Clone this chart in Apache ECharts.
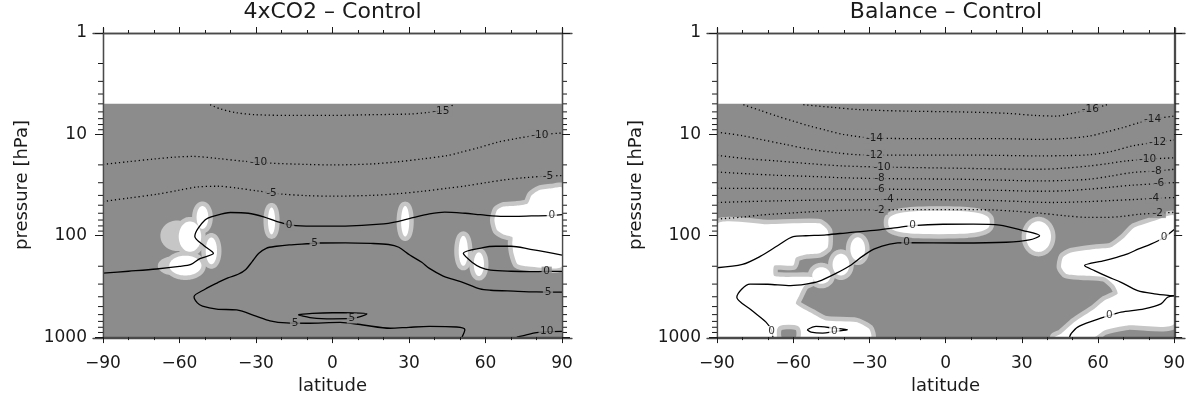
<!DOCTYPE html>
<html><head><meta charset="utf-8">
<script src="https://cdn.jsdelivr.net/npm/echarts@6/dist/echarts.min.js"></script>
<style>html,body{margin:0;padding:0;background:#fff}#c{width:1188px;height:400px}</style>
</head><body><div id="c"></div>
<script>
// ================= DATA =================
const panelTitles = ['4xCO2 \u2013 Control', 'Balance \u2013 Control'];
const latMin = -90, latMax = 90, latStep = 30;
const pMin = 1, pMax = 1000;
const pMinorTicks = [2,3,4,5,6,7,8,9,20,30,40,50,60,70,80,90,200,300,400,500,600,700,800,900];
const shadedTopP = 5;   // significance shading begins at 5 hPa

// ---- Panel A: 4xCO2 - Control : contours [lat, hPa]
const a_m15 = [[-48,5.1],[-44,5.6],[-38,6.1],[-30,6.4],[-15,6.5],[0,6.5],[15,6.4],[30,6.3],[37,6.1],[43,5.8],[47.5,5.1]];
const a_m10 = [[-90,19.8],[-80,18.6],[-70,17.5],[-62,16.8],[-55,16.5],[-45,17.3],[-35,18.4],[-25,19.2],[-10,19.8],[0,20],[15,19.6],[25,18.7],[35,17.5],[45,16.2],[50,15.1],[57,13.6],[64.5,12],[72,11],[81,10.1],[90,9.7]];
const a_m5  = [[-90,46],[-80,42.5],[-69,39],[-60,35.5],[-53,33],[-45,32.5],[-37,34],[-30,36],[-20,38.8],[-10,40.2],[0,40.7],[15,40],[25,38.6],[35,36.5],[45,34],[52,32.3],[60,30],[67,28.2],[75,26.8],[84,25.8],[90,25.5]];
const a_0a  = [[-90,234],[-80,224],[-69,213],[-60,201],[-55.5,192],[-52,168],[-46.7,149],[-50.5,125],[-54,101],[-50,70],[-45.5,63],[-40,59],[-33,60],[-27,65],[-22,72],[-16,78.6],[-8,80.5],[5,80.3],[18.6,77],[26,72],[32,66],[38,61],[44,58.5],[52,60],[58,62],[67,64.5],[78,63.8],[86,63],[90,62]];
const a_0b  = [[90,155],[84,145],[77.6,136],[70,127],[64,127],[59,131],[51.3,149],[55,185],[58,205],[62,218],[70,224],[77.6,226],[84,225],[90,225]];
const a_5a  = [[90,360],[80,358],[71,352],[62,345],[57.8,335],[51.3,290],[47,268],[43.4,250],[38,210],[35,183],[30.3,155],[26,130],[22,122],[15,119],[5,117.5],[-5,118],[-10,120],[-17,123],[-22,127],[-26,133],[-29,150],[-31.5,180],[-34,215],[-37,240],[-41,260],[-45,290],[-50,337],[-54.3,400],[-53,460],[-51,495],[-45.4,530],[-37.6,540],[-30,620],[-24.5,690],[-18,725],[-10,730],[3,715],[12,760],[22.6,818],[30,800],[38,785],[48.7,795],[51.9,845],[50.8,1000]];
const a_5b  = [[-13.4,602],[-8,584],[0,575],[8,576],[13.5,590],[7.6,655],[0,660],[-8,645],[-13.4,602]];
const a_10  = [[72.3,1000],[76,950],[80,905],[85,885],[90,880]];
const a_labels = [[42.5,5.9,'-15'],[-29,19,'-10'],[81.3,10.1,'-10'],[-23.9,37.9,'-5'],[84.5,25.8,'-5'],[-17,78.6,'0'],[86,63,'0'],[84,226,'0'],[-7,120,'5'],[84.5,362,'5'],[-14.7,730,'5'],[7.6,656,'5'],[84,882,'10']];
// non-significant areas: ellipses [lat, hPa, lat half-width, log10 half-height, shape exponent]
const a_whiteEllipses = [[-51,66,2.3,0.113,2],[-55.9,102,4.4,0.15,2],[-47.5,141,2.2,0.132,2],[-57.7,197,6.3,0.098,2],[-23.9,71.4,1.4,0.133,2],[28.5,72,1.6,0.15,2],[51.3,141,1.8,0.148,2],[57.4,191,2.0,0.117,2]];
const a_lightEllipses = [[-61,100,6.5,0.15,2],[-62,198,6.5,0.095,2]];
const a_whitePolys = [[[64.5,56],[67,51.5],[72,50.5],[76.5,48],[78,40],[81,35.5],[86,34],[90,33.5],[90,200],[76,200],[72.5,190],[71,150],[70.5,120],[70.5,103],[67,97],[64.5,88],[63.5,70]]];

// ---- Panel B: Balance - Control
const b_m16 = [[-56,5.1],[-45,5.4],[-33.7,5.7],[-15,5.9],[5.5,6.0],[24,6.2],[35,6.5],[43.5,6.6],[50,6.2],[57,5.7],[63.5,5.1]];
const b_m14 = [[-79.6,5.1],[-73,5.8],[-66.4,6.6],[-60,7.4],[-53.4,8.3],[-47,9.1],[-40.3,10],[-28,10.9],[-10,11],[5.5,11],[20,11],[37,11.2],[47,11],[56.6,10.4],[63,9.5],[69.7,8.6],[76,7.7],[81.5,7.1],[90,6.6]];
const b_m12 = [[-90,9.5],[-80,10.3],[-73,11.2],[-63,12.6],[-53.4,14],[-43,15.2],[-33.7,15.9],[-15,16],[5.5,16],[20,16.1],[37,16.3],[47,16.2],[56.6,15.9],[65,14.8],[73.6,13],[83.5,11.9],[90,11.4]];
const b_m10 = [[-90,16.1],[-78,17.4],[-66.4,18.3],[-53,19.5],[-40.3,20.5],[-25,21],[-10,21.3],[5.5,21.6],[20,21.9],[37,22.1],[47,21.5],[56.6,20.5],[64,19.4],[71,18.3],[79.5,17.6],[90,17]];
const b_m8  = [[-90,23.5],[-78,24.5],[-66.4,25.3],[-53,26],[-40.3,26.8],[-26,27.3],[-10,27.5],[5.5,27.7],[20,28.2],[37,28.8],[47,28.5],[56.6,27.7],[65,25.8],[73.6,23.8],[83,23],[90,22.1]];
const b_m6  = [[-90,34],[-78,34.1],[-66.4,34.2],[-50,34.5],[-26,34.7],[-10,35],[5.5,35.2],[20,35.6],[37,36.4],[47,36],[56.6,34.7],[65,33.2],[73.6,31.7],[84,30.6],[90,29.9]];
const b_m4  = [[-90,47],[-78,46],[-66.4,45.3],[-50,44.5],[-35,44.2],[-22.5,43.9],[-5,44.1],[5.5,44.3],[20,45],[30,46],[42,47],[56.6,46],[65,45],[73.6,44],[82,42.9],[90,42]];
const b_m2  = [[-90,68.5],[-80,65.5],[-73,62.6],[-60,59.5],[-46.8,56.8],[-35,55.8],[-26,55.5],[-10,55.3],[5,55.3],[17,55.5],[28,57.5],[37,59.8],[47,63.5],[56.6,66],[63,66],[69.7,64.4],[76,61.5],[83.5,59.8],[90,58.9]];
const b_0a  = [[-90,207],[-80,192],[-73,160],[-66,125],[-60,102],[-55,100],[-47,98],[-38,93],[-27,88],[-19,83],[-13,79.5],[-1,77],[10.8,76.7],[21.3,78.4],[30.5,89],[37,100],[33,110],[23.9,116],[5.5,118],[-15.4,117],[-22,121],[-28,135],[-32.5,158],[-37.7,198],[-43,234],[-50,282],[-55,300],[-61,310],[-70,301],[-77,300],[-82.2,404],[-76.5,540],[-70.7,711],[-68.5,860],[-68,1000]];
const b_0b  = [[-54.5,846],[-51,785],[-44.5,812],[-38.6,846],[-43.8,879],[-48.4,912],[-53,891],[-54.5,846]];
const b_0c  = [[90,87],[86,104],[80.8,121],[76,135],[71.7,151],[67,164],[62.5,176],[54.7,197],[58.6,221],[64,255],[69.1,288],[75.6,348],[82.2,374],[88.7,389],[90,390]];
const b_0d  = [[90,392],[87.4,404],[84.8,470],[78.2,526],[69.1,567],[64.5,612],[58.6,685],[52,797],[49.4,926],[48.8,1000]];
const b_labels = [[57,5.7,'-16'],[-28,10.9,'-14'],[81.5,7.1,'-14'],[-28,15.9,'-12'],[83.5,11.9,'-12'],[-25,21,'-10'],[79.5,17.6,'-10'],[-26,27.3,'-8'],[83,23,'-8'],[-26,34.7,'-6'],[84,30.6,'-6'],[-22.5,43.9,'-4'],[82,42.9,'-4'],[-26,55.5,'-2'],[83.5,59.8,'-2'],[-13,79.5,'0'],[-15.4,117,'0'],[-68.5,870,'0'],[-43.8,879,'0'],[86,104,'0'],[64.5,612,'0']];
const b_whiteEllipses = [[-2.6,74,20,0.115,3],[36.6,102,4.9,0.151,2],[-34.6,135,2.9,0.115,2],[-41.2,193,3.3,0.107,2],[-48.9,247,3.6,0.082,2]];
const b_whitePolys = [
  [[-90,77],[-70,77],[-49.7,75.5],[-46.4,89],[-46.4,130],[-49.7,149],[-55,153],[-58.9,165],[-60,197],[-67.4,197],[-67.4,250],[-52.5,256],[-52,280],[-55.5,310],[-57.6,389],[-58.9,470],[-52.3,589],[-47.1,685],[-35.3,711],[-30.1,828],[-29.4,1000],[-90,1000]],
  [[90,63.5],[82.2,71],[74.3,83],[70.4,104],[65.1,130],[58.6,135],[49.4,146],[46.2,163],[45.5,205],[47.5,238],[53.4,247],[62.5,257],[66.4,310],[67.7,374],[62.5,436],[58.6,526],[50.7,711],[45.5,926],[42.9,1000],[58.6,1000],[62.5,859],[71.7,767],[90,738]]
];
const b_lightPolys = [[[-90,650],[-85,650],[-84,1000],[-90,1000]]];
const b_greyPolys  = [[[-64.5,850],[-59,850],[-59,1000],[-64.5,1000]]];

// ================= CHART =================
const DARK = '#8c8c8c', HALO = '#c6c6c6', AXIS = '#4a4a4a', TXT = '#1a1a1a';
const FONT = 'DejaVu Sans';
const TOP = 33, BOTTOM = 62;
const panels = [
  {title: panelTitles[0], left: 103, right: 626, solid: [a_0a, a_0b, a_5a, a_5b, a_10], dotted: [a_m15, a_m10, a_m5],
   labels: a_labels, whiteEll: a_whiteEllipses, lightEll: a_lightEllipses, whitePolys: a_whitePolys, lightPolys: [], greyPolys: []},
  {title: panelTitles[1], left: 717, right: 13, solid: [b_0a, b_0b, b_0c, b_0d], dotted: [b_m16, b_m14, b_m12, b_m10, b_m8, b_m6, b_m4, b_m2],
   labels: b_labels, whiteEll: b_whiteEllipses, lightEll: [], whitePolys: b_whitePolys, lightPolys: b_lightPolys, greyPolys: b_greyPolys}
];

function lg(p) { return Math.log10(p); }
function inEll(e, lat, p) {
  const u = Math.abs((lat - e[0]) / e[2]), v = Math.abs((lg(p) - lg(e[1])) / e[3]);
  return Math.pow(u, e[4]) + Math.pow(v, e[4]) <= 1;
}
function inPoly(poly, lat, p) {
  const y = lg(p); let inside = false;
  for (let i = 0, j = poly.length - 1; i < poly.length; j = i++) {
    const xi = poly[i][0], yi = lg(poly[i][1]), xj = poly[j][0], yj = lg(poly[j][1]);
    if ((yi > y) !== (yj > y) && lat < (xj - xi) * (y - yi) / (yj - yi) + xi) inside = !inside;
  }
  return inside;
}
function inWhite(P, lat, p) {
  if (P.greyPolys.some(g => inPoly(g, lat, p))) return false;
  return P.whiteEll.some(e => inEll(e, lat, p)) || P.whitePolys.some(g => inPoly(g, lat, p));
}
function ellPts(api, e) {
  const pts = [], n = e[4], c0 = lg(e[1]);
  for (let k = 0; k < 72; k++) {
    const t = 2 * Math.PI * k / 72, c = Math.cos(t), s = Math.sin(t);
    const cx = Math.sign(c) * Math.pow(Math.abs(c), 2 / n), sy = Math.sign(s) * Math.pow(Math.abs(s), 2 / n);
    pts.push(api.coord([e[0] + e[2] * cx, Math.pow(10, c0 + e[3] * sy)]));
  }
  return pts;
}

const grids = [], xAxes = [], yAxes = [], series = [], titles = [];
const tickStyle = {color: TXT, width: 1};
const lineAx = {show: true, onZero: false, lineStyle: {color: AXIS, width: 1.3}};

panels.forEach((P) => {
  const g = grids.length;
  grids.push({left: P.left, right: P.right, top: TOP, bottom: BOTTOM});
  grids.push({left: P.left - 10, right: P.right - 10, top: TOP, bottom: BOTTOM});
  grids.push({left: P.left, right: P.right, top: TOP - 5, bottom: BOTTOM});
  const plotL = P.left, plotR = 1188 - P.right;
  titles.push({text: P.title, left: (plotL + plotR) / 2, top: 1, textAlign: 'center', padding: 0,
    textStyle: {fontSize: 22, fontWeight: 'normal', color: TXT, fontFamily: FONT}});

  const xb = xAxes.length;
  const xCommon = {type: 'value', min: latMin, max: latMax, interval: latStep, z: 10, axisLine: lineAx,
    axisTick: {show: true, length: 6, lineStyle: tickStyle},
    minorTick: {show: true, splitNumber: 3, length: 3, lineStyle: tickStyle},
    splitLine: {show: false}, minorSplitLine: {show: false}};
  xAxes.push(Object.assign({}, xCommon, {gridIndex: g, position: 'bottom',
    axisLabel: {show: true, margin: 18, fontSize: 17, color: TXT, fontFamily: FONT, formatter: v => String(v).replace('-', '\u2212')},
    name: 'latitude', nameLocation: 'middle', nameGap: 37, nameTextStyle: {fontSize: 18, color: TXT, fontFamily: FONT}}));
  xAxes.push(Object.assign({}, xCommon, {gridIndex: g, position: 'top', axisLabel: {show: false}}));
  const extX = {type: 'value', min: 0, max: 1, axisLine: lineAx, axisTick: {show: false}, axisLabel: {show: false}, splitLine: {show: false}};
  xAxes.push(Object.assign({}, extX, {gridIndex: g + 1, position: 'bottom'}));
  xAxes.push(Object.assign({}, extX, {gridIndex: g + 1, position: 'top'}));
  xAxes.push({gridIndex: g + 2, type: 'value', min: 0, max: 1, show: false});

  const yl = yAxes.length;
  const yCommon = {type: 'log', logBase: 10, min: pMin, max: pMax, inverse: true, z: 10, axisLine: lineAx,
    axisTick: {show: true, length: 8, lineStyle: tickStyle}, splitLine: {show: false}};
  yAxes.push(Object.assign({}, yCommon, {gridIndex: g, position: 'left',
    axisLabel: {show: true, margin: 16, fontSize: 17, color: TXT, fontFamily: FONT, formatter: v => String(Math.round(v))},
    name: 'pressure [hPa]', nameLocation: 'middle', nameGap: 72, nameTextStyle: {fontSize: 18, color: TXT, fontFamily: FONT}}));
  yAxes.push(Object.assign({}, yCommon, {gridIndex: g, position: 'right', axisLabel: {show: false}}));
  yAxes.push({gridIndex: g + 1, type: 'value', min: 0, max: 1, show: false});
  const extY = {type: 'value', min: 0, max: 1, axisLine: lineAx, axisTick: {show: false}, axisLabel: {show: false}, splitLine: {show: false}};
  yAxes.push(Object.assign({}, extY, {gridIndex: g + 2, position: 'left'}));
  yAxes.push(Object.assign({}, extY, {gridIndex: g + 2, position: 'right'}));

  const base = {xAxisIndex: xb, yAxisIndex: yl, silent: true, animation: false};
  // shaded (significant) region
  series.push(Object.assign({}, base, {type: 'custom', z: 1, clip: true, data: [[0, shadedTopP]],
    renderItem: (params, api) => {
      const a = api.coord([latMin, shadedTopP]), b = api.coord([latMax, pMax]);
      return {type: 'rect', shape: {x: a[0], y: a[1], width: b[0] - a[0], height: b[1] - a[1]}, style: {fill: DARK}};
    }}));
  // non-significant areas
  series.push(Object.assign({}, base, {type: 'custom', z: 2, clip: true, data: [[0, 100]],
    renderItem: (params, api) => {
      const ch = [];
      const haloSt = {fill: HALO, stroke: HALO, lineWidth: 9, lineJoin: 'round'};
      const polyPts = poly => poly.map(q => api.coord(q));
      P.lightEll.forEach(e => ch.push({type: 'polygon', shape: {points: ellPts(api, e)}, style: {fill: HALO}}));
      P.lightPolys.forEach(q => ch.push({type: 'polygon', shape: {points: polyPts(q), smooth: 0.2}, style: {fill: HALO}}));
      P.whiteEll.forEach(e => ch.push({type: 'polygon', shape: {points: ellPts(api, e)}, style: haloSt}));
      P.whitePolys.forEach(q => ch.push({type: 'polygon', shape: {points: polyPts(q), smooth: 0.2}, style: haloSt}));
      P.whiteEll.forEach(e => ch.push({type: 'polygon', shape: {points: ellPts(api, e)}, style: {fill: '#fff'}}));
      P.whitePolys.forEach(q => ch.push({type: 'polygon', shape: {points: polyPts(q), smooth: 0.2}, style: {fill: '#fff'}}));
      P.greyPolys.forEach(q => ch.push({type: 'polygon', shape: {points: polyPts(q), smooth: 0.2}, style: haloSt}));
      P.greyPolys.forEach(q => ch.push({type: 'polygon', shape: {points: polyPts(q), smooth: 0.2}, style: {fill: DARK}}));
      return {type: 'group', children: ch};
    }}));
  // log minor ticks on both pressure axes
  series.push(Object.assign({}, base, {type: 'custom', z: 5, clip: false, data: pMinorTicks.map(p => [latMin, p]),
    renderItem: (params, api) => {
      const p = api.value(1), l = api.coord([latMin, p]), r = api.coord([latMax, p]);
      return {type: 'group', children: [
        {type: 'line', shape: {x1: l[0] - 5, y1: l[1], x2: l[0], y2: l[1]}, style: {stroke: TXT, lineWidth: 1}},
        {type: 'line', shape: {x1: r[0], y1: r[1], x2: r[0] + 5, y2: r[1]}, style: {stroke: TXT, lineWidth: 1}}]};
    }}));
  // contours
  P.solid.forEach(c => series.push(Object.assign({}, base, {type: 'line', z: 3, data: c, symbol: 'none', smooth: 0.3,
    lineStyle: {color: '#000', width: 1.3}})));
  P.dotted.forEach(c => series.push(Object.assign({}, base, {type: 'line', z: 3, data: c, symbol: 'none', smooth: 0.3,
    lineStyle: {color: '#000', width: 1.3, type: [1.2, 2.8]}})));
  // contour labels (breaking the line)
  series.push(Object.assign({}, base, {type: 'scatter', z: 4,
    data: P.labels.map(l => ({value: [l[0], l[1]], name: l[2]})),
    symbol: 'rect', symbolSize: (v, prm) => [prm.name.length * 6.2 + 4, 10],
    itemStyle: {color: prm => inWhite(P, prm.value[0], prm.value[1]) ? '#fff' : DARK},
    label: {show: true, position: 'inside', formatter: '{b}', fontSize: 10.5, color: '#000', fontFamily: FONT}}));
});

const chart = echarts.init(document.getElementById('c'), null, {renderer: 'canvas'});
chart.setOption({
  animation: false,
  backgroundColor: '#fff',
  textStyle: {fontFamily: FONT},
  title: titles, grid: grids, xAxis: xAxes, yAxis: yAxes, series: series
});
</script></body></html>
